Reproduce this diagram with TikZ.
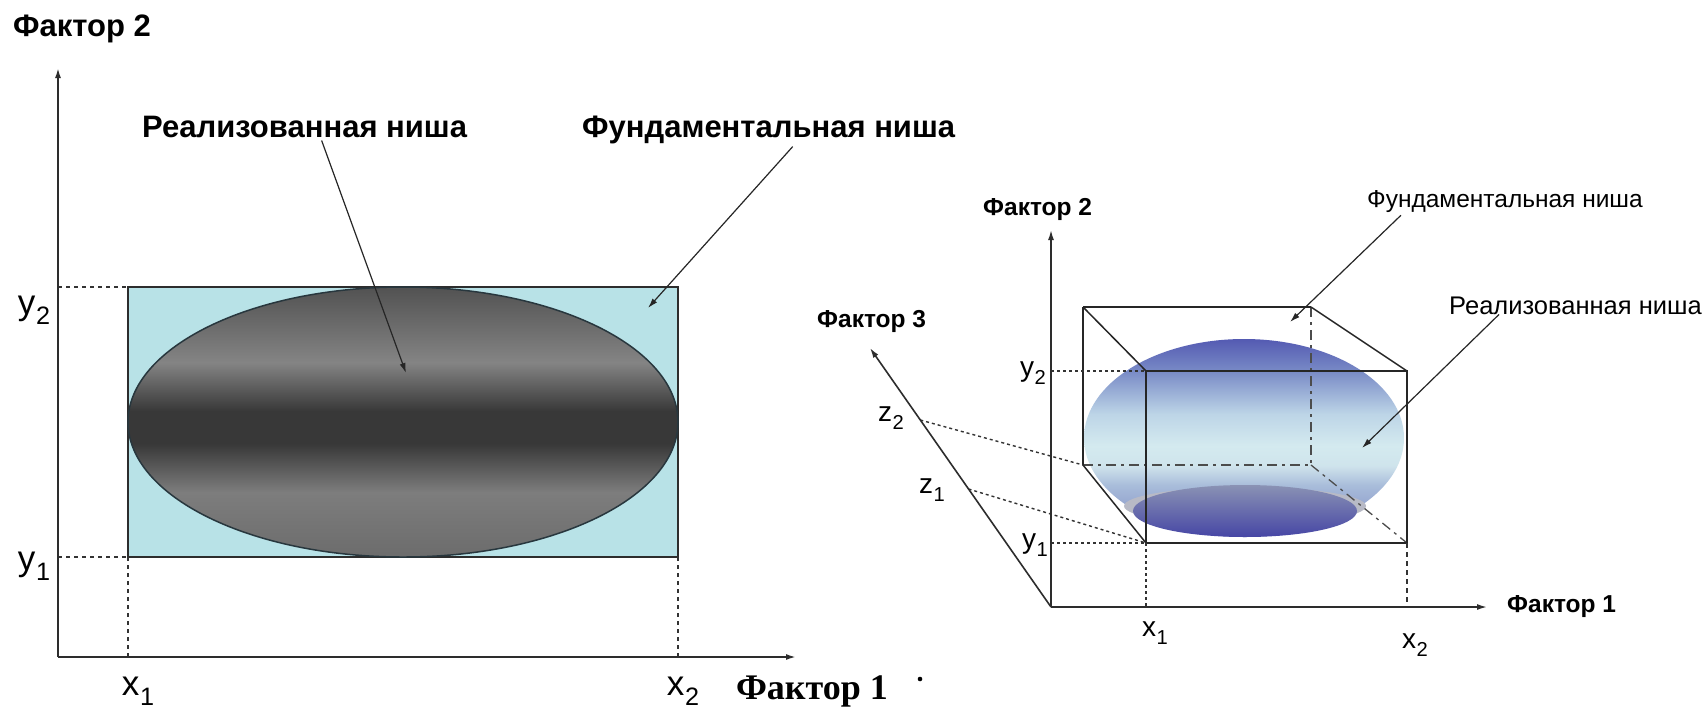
\documentclass[tikz,border=0pt]{standalone}
\usepackage{fontspec}
\usepackage{graphicx}
\setmainfont{Liberation Serif}
\newfontfamily\lsans{Liberation Sans}
\usetikzlibrary{arrows.meta}

\definecolor{axc}{RGB}{45,45,45}
\definecolor{nichecyan}{RGB}{184,226,231}
\definecolor{ellline}{RGB}{40,55,62}
\definecolor{gA}{RGB}{108,108,108}
\definecolor{gB}{RGB}{125,125,125}
\definecolor{gC}{RGB}{56,56,56}
\definecolor{gD}{RGB}{132,132,132}
\definecolor{gE}{RGB}{82,82,82}
\definecolor{sA}{RGB}{124,136,192}
\definecolor{sB}{RGB}{168,188,218}
\definecolor{sC}{RGB}{207,228,236}
\definecolor{sD}{RGB}{212,234,239}
\definecolor{sE}{RGB}{189,213,231}
\definecolor{sF}{RGB}{120,138,198}
\definecolor{sG}{RGB}{84,90,178}
\definecolor{iA}{RGB}{70,70,165}
\definecolor{iB}{RGB}{138,146,180}
\definecolor{shadowc}{RGB}{184,186,198}

\pgfdeclareverticalshading{greyell}{100bp}{color(0bp)=(gA); color(25bp)=(gA); color(37bp)=(gB); color(46bp)=(gC); color(52bp)=(gC); color(61bp)=(gD); color(75bp)=(gE); color(100bp)=(gE)}
\pgfdeclareverticalshading{sphere}{100bp}{color(0bp)=(sA); color(25bp)=(sA); color(38bp)=(sB); color(43bp)=(sC); color(48bp)=(sD); color(56bp)=(sE); color(67bp)=(sF); color(75bp)=(sG); color(100bp)=(sG)}
\pgfdeclareverticalshading{innerell}{100bp}{color(0bp)=(iA); color(25bp)=(iA); color(75bp)=(iB); color(100bp)=(iB)}

\newcommand\sbs[2]{#1\kern0.02em\raisebox{-0.3em}{\scalebox{0.72}{#2}}}

\tikzset{
  ax/.style={line width=1.8pt, draw=axc, -{Latex[length=10pt,width=6pt]}},
  arr/.style={line width=1.2pt, draw=black!85, -{Latex[length=10pt,width=6pt]}},
  boxline/.style={line width=1.5pt, draw=black!85},
  hid/.style={line width=1.3pt, draw=black!70, dash pattern=on 10pt off 5pt on 3pt off 5pt},
  guideL/.style={line width=1.3pt, draw=black!80, dash pattern=on 4pt off 4pt},
  guideR/.style={line width=1.4pt, draw=black!80, dash pattern=on 3pt off 3pt},
  bigbold/.style={inner sep=0pt, font=\lsans\bfseries\fontsize{31}{34}\selectfont},
  smallbold/.style={inner sep=0pt, font=\lsans\bfseries\fontsize{24.5}{27}\selectfont},
  smallreg/.style={inner sep=0pt, font=\lsans\fontsize{24.5}{27}\selectfont},
  subL/.style={inner sep=0pt, font=\lsans\fontsize{35}{38}\selectfont},
  subR/.style={inner sep=0pt, font=\lsans\fontsize{28}{31}\selectfont},
  serifb/.style={inner sep=0pt, font=\bfseries\fontsize{36}{40}\selectfont},
}

\begin{document}
\begin{tikzpicture}[x=1pt,y=-1pt]
\useasboundingbox[fill=white] (0,0) rectangle (1707,713);

% ---------------- LEFT DIAGRAM ----------------
\coordinate (LO) at (58,657);
\coordinate (LYtip) at (58,68);
\coordinate (LXtip) at (796,657);
\coordinate (LA) at (128,557);
\coordinate (LB) at (678,557);
\coordinate (LC) at (678,287);
\coordinate (LD) at (128,287);
\coordinate (Ly1) at (58,557);
\coordinate (Ly2) at (58,287);
\coordinate (Lx1) at (128,657);
\coordinate (Lx2) at (678,657);

\filldraw[fill=nichecyan, draw=axc, line width=1.4pt] (LA) rectangle (LC);
\shade[shading=greyell] (403,422) ellipse (275 and 135);
\draw[ellline, line width=1.5pt] (403,422) ellipse (275 and 135);

\draw[guideL] (Ly2) -- (LD);
\draw[guideL] (Ly1) -- (LA);
\draw[guideL] (LA) -- (Lx1);
\draw[guideL] (LB) -- (Lx2);

\draw[ax] (LO) -- (LYtip);
\draw[ax] (LO) -- (LXtip);

\node[bigbold, anchor=base west] (f2L) at (13,36) {Фактор 2};
\node[bigbold, anchor=base west] (realL) at (142,137) {Реализованная ниша};
\node[bigbold, anchor=base west] (fundL) at (582,137) {Фундаментальная ниша};
\node[serifb, anchor=base] (f1L) at (812,699) {Фактор 1};
\fill[black] (920,679) circle (2.3);

\node[subL] (y2L) at (34,310) {\sbs{y}{2}};
\node[subL] (y1L) at (34,566) {\sbs{y}{1}};
\node[subL] (x1L) at (138,691) {\sbs{x}{1}};
\node[subL] (x2L) at (683,691) {\sbs{x}{2}};

\coordinate (realLtip) at (406,373);
\coordinate (fundLtip) at (648,308);
\draw[arr] ([xshift=17pt,yshift=-3pt]realL.south) -- (realLtip);
\draw[arr] ([xshift=24pt,yshift=-3pt]fundL.south) -- (fundLtip);

% ---------------- RIGHT DIAGRAM ----------------
\coordinate (RO) at (1051,607);
\coordinate (RYtip) at (1051,230);
\coordinate (RXtip) at (1487,607);
\coordinate (RZtip) at (870,348);
\coordinate (FTL) at (1146,371);
\coordinate (FTR) at (1407,371);
\coordinate (FBR) at (1407,543);
\coordinate (FBL) at (1146,543);
\coordinate (BTL) at (1083,307);
\coordinate (BTR) at (1311,307);
\coordinate (BBR) at (1311,465);
\coordinate (BBL) at (1083,465);
\coordinate (Ry2) at (1051,371);
\coordinate (Ry1) at (1051,543);
\coordinate (Rx1) at (1146,607);
\coordinate (Rx2) at (1407,607);
\coordinate (Rz2) at (920.3,420);
\coordinate (Rz1) at (968.5,489);

% sphere
\shade[shading=sphere] (1244,438) ellipse (160 and 99);
\fill[shadowc] (1245,506) ellipse (121 and 19);
\shade[shading=innerell] (1245,511) ellipse (112 and 26);

% hidden edges
\draw[hid] (BBL) -- (BBR);
\draw[hid] (BTR) -- (BBR);
\draw[hid] (BBR) -- (FBR);

% visible edges
\draw[boxline] (BTL) -- (BTR);
\draw[boxline] (BTL) -- (BBL);
\draw[boxline] (BTL) -- (FTL);
\draw[boxline] (BTR) -- (FTR);
\draw[boxline] (BBL) -- (FBL);
\draw[boxline] (FTL) -- (FTR) -- (FBR) -- (FBL) -- cycle;

% guides
\draw[guideR] (Ry2) -- (FTL);
\draw[guideR] (Ry1) -- (FBL);
\draw[guideR] (Rz2) -- (BBL);
\draw[guideR] (Rz1) -- (FBL);
\draw[guideR] (FBL) -- (Rx1);
\draw[guideR, dash pattern=on 5pt off 4pt] (FBR) -- (Rx2);

% axes
\draw[ax, line width=1.6pt] (RO) -- (RYtip);
\draw[ax, line width=1.6pt] (RO) -- (RXtip);
\draw[ax, line width=1.6pt] (RO) -- (RZtip);

\node[smallbold, anchor=base west] (f2R) at (983,215) {Фактор 2};
\node[smallbold, anchor=base west] (f3R) at (817,327) {Фактор 3};
\node[smallbold, anchor=base west] (f1R) at (1507,612) {Фактор 1};
\node[smallreg, anchor=base east] (fundR) at (1643,207) {Фундаментальная ниша};
\node[smallreg, anchor=base east, font=\lsans\fontsize{25.5}{28}\selectfont] (realR) at (1702,314) {Реализованная ниша};

\node[subR] (y2R) at (1033,373) {\sbs{y}{2}};
\node[subR] (y1R) at (1035,545) {\sbs{y}{1}};
\node[subR] (z2R) at (891,418) {\sbs{z}{2}};
\node[subR] (z1R) at (932,490) {\sbs{z}{1}};
\node[subR] (x1R) at (1155,633) {\sbs{x}{1}};
\node[subR] (x2R) at (1415,645) {\sbs{x}{2}};

\coordinate (fundRtip) at (1290,322);
\coordinate (realRtip) at (1362,448);
\draw[arr] ([xshift=34pt,yshift=-3pt]fundR.south west) -- (fundRtip);
\draw[arr] ([xshift=50pt]realR.south west) -- (realRtip);
\end{tikzpicture}
\end{document}
